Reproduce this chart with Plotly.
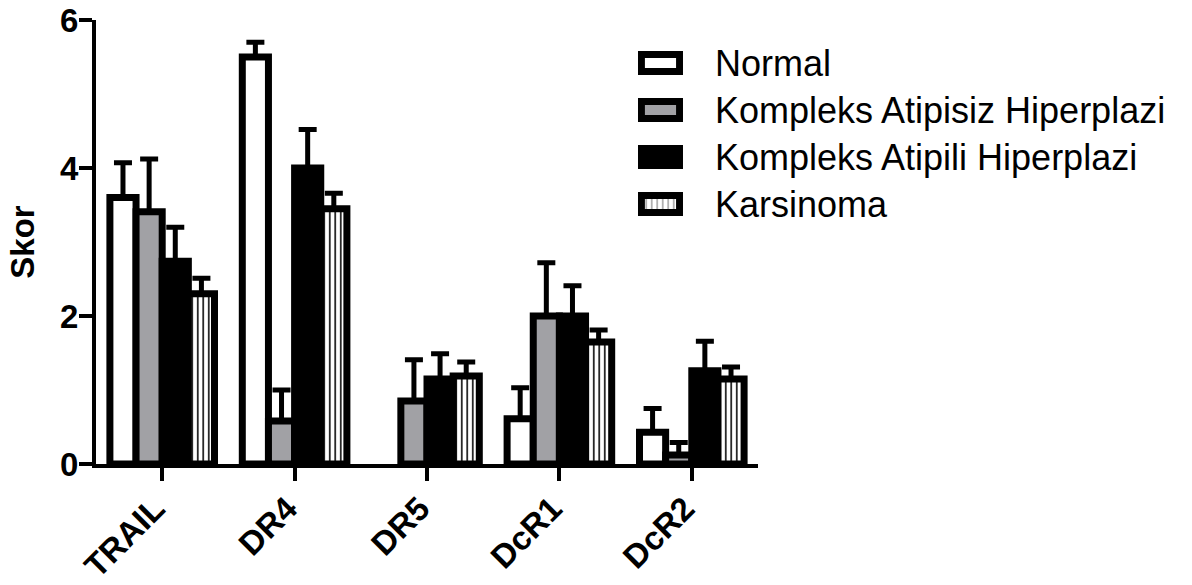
import plotly.graph_objects as go

# Marker categories and group names
categories = ["TRAIL", "DR4", "DR5", "DcR1", "DcR2"]
groups = ["Normal", "Kompleks Atipisiz Hiperplazi", "Kompleks Atipili Hiperplazi", "Karsinoma"]

# Mean scores per group (one value per category)
normal = [3.60, 5.50, 0.00, 0.61, 0.43]
atipisiz = [3.41, 0.58, 0.85, 2.00, 0.12]
atipili = [2.74, 4.00, 1.15, 2.00, 1.26]
karsinoma = [2.30, 3.45, 1.19, 1.65, 1.15]

# Upper error (SEM) per group
normal_err = [0.47, 0.20, 0.00, 0.42, 0.32]
atipisiz_err = [0.71, 0.42, 0.56, 0.72, 0.17]
atipili_err = [0.46, 0.52, 0.34, 0.41, 0.40]
karsinoma_err = [0.21, 0.21, 0.19, 0.16, 0.16]

y_ticks = [0, 2, 4, 6]

GRAY = "#a1a1a5"
FONT = "Liberation Sans"

styles = [
    dict(color="white", pattern=dict(shape="")),
    dict(color=GRAY, pattern=dict(shape="")),
    dict(color="black", pattern=dict(shape="")),
    dict(color="white", pattern=dict(shape="|", fgcolor="black", bgcolor="white",
                                     size=5.5, solidity=0.28, fillmode="replace")),
]

series = [normal, atipisiz, atipili, karsinoma]
errors = [normal_err, atipisiz_err, atipili_err, karsinoma_err]

fig = go.Figure()

for name, vals, errs, st in zip(groups, series, errors, styles):
    # a zero mean has no visible bar and no error bar
    shown = [v if v > 0 else None for v in vals]
    shown_err = [e if v > 0 else None for v, e in zip(vals, errs)]
    fig.add_trace(go.Bar(
        x=categories, y=shown, name=name, showlegend=False,
        marker=dict(color=st["color"], pattern=st["pattern"],
                    line=dict(color="black", width=7)),
        error_y=dict(type="data", symmetric=False, array=shown_err,
                     arrayminus=[0] * len(errs), color="black",
                     thickness=5, width=9),
        xaxis="x", yaxis="y",
    ))

# Key: one swatch per group drawn as short horizontal bars on their own axes
fig.add_trace(go.Bar(
    y=groups, x=[1, 1, 1, 1], orientation="h", width=0.36, showlegend=False,
    marker=dict(color=[s["color"] for s in styles],
                pattern=dict(shape=[s["pattern"]["shape"] for s in styles],
                             fgcolor="black", bgcolor="white",
                             size=5.5, solidity=0.28),
                line=dict(color="black", width=7)),
    xaxis="x2", yaxis="y2", hoverinfo="skip",
))

fig.update_layout(
    width=1192, height=585,
    margin=dict(l=96, r=434, t=20, b=121, autoexpand=False),
    paper_bgcolor="white", plot_bgcolor="white",
    barmode="group", bargap=0.21, bargroupgap=0,
    showlegend=False,
    font=dict(family=FONT, color="black"),
    xaxis=dict(
        domain=[0, 1], range=[-0.5, 4.5], type="category", automargin=False,
        showline=True, linecolor="black", linewidth=4,
        ticks="outside", ticklen=13, tickwidth=4, tickcolor="black",
        tickangle=-45, tickfont=dict(family=FONT, size=33, weight="bold"),
        ticklabelshift=-7, ticklabelstandoff=-5,
        showgrid=False, zeroline=False,
    ),
    yaxis=dict(
        domain=[0, 1], range=[0, 6], tickvals=y_ticks, automargin=False,
        showline=True, linecolor="black", linewidth=4,
        ticks="outside", ticklen=13, tickwidth=4, tickcolor="black",
        tickfont=dict(family=FONT, size=33, weight="bold"), ticklabelstandoff=-6,
        showgrid=False, zeroline=False,
        title=dict(text="Skor", font=dict(family=FONT, size=33, weight="bold"), standoff=16),
    ),
    xaxis2=dict(
        domain=[0.8187, 0.8867], range=[-0.09, 1.09], anchor="y2",
        visible=False, fixedrange=True,
    ),
    yaxis2=dict(
        domain=[0.5327, 0.956], anchor="x2", side="right", automargin=False,
        type="category", categoryorder="array", categoryarray=groups,
        range=[3.5, -0.5],
        showline=False, showgrid=False, zeroline=False, ticks="",
        tickfont=dict(family=FONT, size=36), ticklabelstandoff=31,
    ),
)

fig.write_html("out.html")
